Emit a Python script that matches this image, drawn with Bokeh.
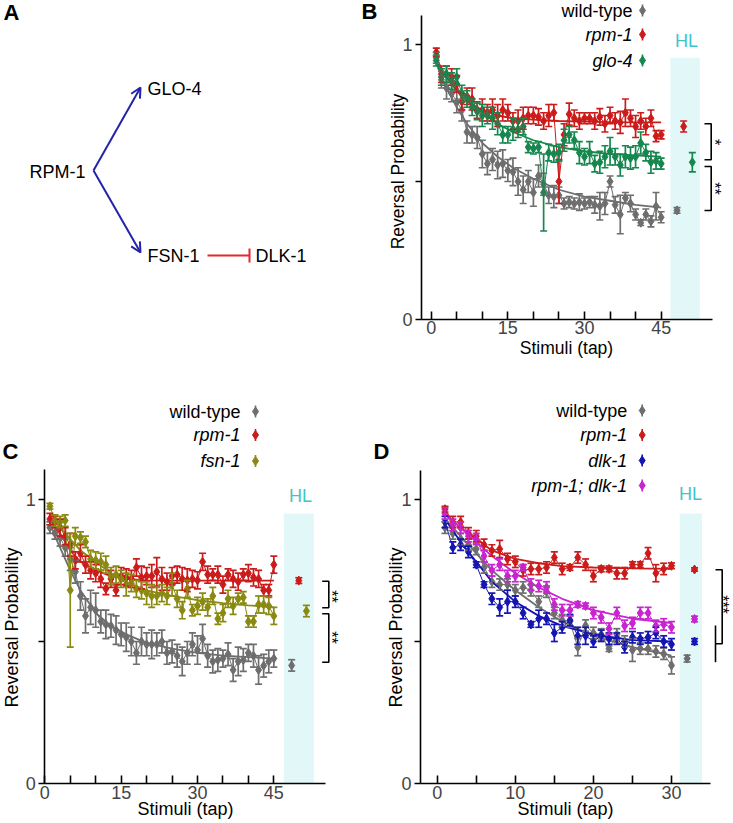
import math
from bokeh.plotting import figure
from bokeh.layouts import row, column
from bokeh.models import (Range1d, LinearAxis, FixedTicker, Whisker, TeeHead,
                          OpenHead, Arrow, ColumnDataSource, Grid)
from bokeh.core.properties import value
from bokeh.embed import file_html
from bokeh.resources import INLINE

FONT = "Liberation Sans"

# ---------------- data ----------------
taps45 = list(range(1, 46))
taps30 = list(range(1, 31))

# Panel B
B_wt = [0.95, 0.87, 0.84, 0.82, 0.79, 0.76, 0.68, 0.67, 0.66, 0.60,
        0.565, 0.58, 0.56, 0.565, 0.54, 0.535, 0.50, 0.47, 0.50, 0.46,
        0.52, 0.49, 0.45, 0.445, 0.45, 0.42, 0.425, 0.42, 0.425, 0.42,
        0.425, 0.415, 0.41, 0.42, 0.50, 0.415, 0.38, 0.44, 0.42, 0.38,
        0.35, 0.38, 0.355, 0.41, 0.37]
B_wt_err = [0.02, 0.03, 0.04, 0.03, 0.04, 0.04, 0.04, 0.03, 0.04, 0.05,
            0.04, 0.04, 0.05, 0.05, 0.04, 0.05, 0.05, 0.05, 0.04, 0.05,
            0.04, 0.04, 0.03, 0.04, 0.03, 0.02, 0.02, 0.02, 0.03, 0.02,
            0.02, 0.03, 0.05, 0.04, 0.02, 0.03, 0.07, 0.02, 0.03, 0.02,
            0.01, 0.02, 0.02, 0.05, 0.02]
B_rpm = [0.97, 0.89, 0.89, 0.88, 0.855, 0.79, 0.81, 0.80, 0.76, 0.76,
         0.75, 0.76, 0.74, 0.76, 0.75, 0.72, 0.72, 0.73, 0.74, 0.74,
         0.735, 0.72, 0.74, 0.75, 0.50, 0.67, 0.745, 0.73, 0.72, 0.73,
         0.73, 0.72, 0.735, 0.71, 0.74, 0.72, 0.715, 0.75, 0.73, 0.70,
         0.72, 0.70, 0.73, 0.665, 0.67]
B_rpm_err = [0.015, 0.03, 0.03, 0.03, 0.03, 0.03, 0.03, 0.04, 0.03, 0.04,
             0.03, 0.04, 0.04, 0.04, 0.03, 0.03, 0.04, 0.04, 0.03, 0.03,
             0.03, 0.03, 0.04, 0.03, 0.08, 0.04, 0.04, 0.03, 0.03, 0.02,
             0.02, 0.03, 0.03, 0.03, 0.03, 0.03, 0.04, 0.05, 0.03, 0.04,
             0.03, 0.03, 0.03, 0.02, 0.015]
B_glo = [0.94, 0.88, 0.89, 0.865, 0.88, 0.82, 0.80, 0.77, 0.755, 0.74,
         0.74, 0.73, 0.71, 0.67, 0.67, 0.69, 0.69, 0.70, 0.625, 0.62,
         0.625, 0.46, 0.605, 0.60, 0.605, 0.65, 0.67, 0.65, 0.605, 0.59,
         0.605, 0.565, 0.57, 0.59, 0.61, 0.59, 0.56, 0.59, 0.585, 0.59,
         0.64, 0.605, 0.57, 0.575, 0.565]
B_glo_err = [0.02, 0.03, 0.03, 0.03, 0.03, 0.03, 0.03, 0.03, 0.03, 0.04,
             0.03, 0.04, 0.04, 0.03, 0.03, 0.04, 0.03, 0.03, 0.02, 0.02,
             0.02, 0.14, 0.03, 0.03, 0.03, 0.04, 0.03, 0.03, 0.04, 0.03,
             0.04, 0.03, 0.04, 0.04, 0.05, 0.03, 0.04, 0.04, 0.04, 0.04,
             0.04, 0.03, 0.04, 0.03, 0.02]
fitB_x = [1, 2, 3, 5, 7, 10, 13, 16, 20, 25, 30, 35, 40, 45]
B_wt_fit = [0.93, 0.88, 0.84, 0.77, 0.71, 0.64, 0.59, 0.55, 0.51, 0.47, 0.445, 0.43, 0.415, 0.405]
B_rpm_fit = [0.95, 0.91, 0.88, 0.83, 0.79, 0.76, 0.74, 0.73, 0.725, 0.72, 0.718, 0.716, 0.715, 0.715]
B_glo_fit = [0.94, 0.91, 0.88, 0.84, 0.80, 0.75, 0.71, 0.68, 0.65, 0.625, 0.61, 0.60, 0.595, 0.59]
B_hl_x = [48.1, 49.4, 51.1]
B_hl = [0.395, 0.70, 0.57]
B_hl_err = [0.01, 0.02, 0.035]

# Panel C
C_wt = [0.90, 0.88, 0.865, 0.83, 0.79, 0.745, 0.66, 0.59, 0.62, 0.61,
        0.57, 0.56, 0.555, 0.54, 0.525, 0.515, 0.50, 0.46, 0.50, 0.49,
        0.49, 0.49, 0.50, 0.46, 0.465, 0.45, 0.43, 0.46, 0.49, 0.47,
        0.51, 0.45, 0.43, 0.435, 0.44, 0.455, 0.40, 0.43, 0.435, 0.46,
        0.45, 0.40, 0.415, 0.43, 0.44]
C_wt_err = [0.02, 0.02, 0.03, 0.03, 0.04, 0.04, 0.05, 0.06, 0.06, 0.06,
            0.04, 0.05, 0.04, 0.05, 0.04, 0.05, 0.05, 0.04, 0.05, 0.04,
            0.05, 0.04, 0.04, 0.04, 0.04, 0.04, 0.05, 0.04, 0.04, 0.05,
            0.05, 0.04, 0.04, 0.04, 0.03, 0.04, 0.04, 0.05, 0.04, 0.03,
            0.04, 0.05, 0.04, 0.04, 0.03]
C_rpm = [0.93, 0.92, 0.90, 0.87, 0.84, 0.785, 0.81, 0.77, 0.75, 0.74,
         0.72, 0.685, 0.72, 0.68, 0.73, 0.725, 0.72, 0.76, 0.725, 0.73,
         0.73, 0.745, 0.72, 0.71, 0.73, 0.735, 0.72, 0.715, 0.72, 0.715,
         0.78, 0.735, 0.735, 0.735, 0.70, 0.735, 0.72, 0.71, 0.735, 0.74,
         0.725, 0.72, 0.68, 0.68, 0.77]
C_rpm_err = [0.02, 0.02, 0.03, 0.03, 0.04, 0.03, 0.03, 0.03, 0.03, 0.03,
             0.03, 0.02, 0.03, 0.02, 0.03, 0.03, 0.03, 0.03, 0.04, 0.03,
             0.04, 0.05, 0.04, 0.03, 0.03, 0.03, 0.04, 0.04, 0.03, 0.03,
             0.03, 0.03, 0.02, 0.03, 0.03, 0.02, 0.03, 0.03, 0.02, 0.03,
             0.03, 0.03, 0.02, 0.02, 0.03]
C_fsn = [0.975, 0.925, 0.92, 0.925, 0.68, 0.87, 0.865, 0.85, 0.79, 0.785,
         0.78, 0.77, 0.73, 0.735, 0.72, 0.70, 0.705, 0.685, 0.68, 0.67,
         0.66, 0.66, 0.67, 0.66, 0.70, 0.65, 0.61, 0.685, 0.61, 0.625,
         0.64, 0.62, 0.66, 0.58, 0.60, 0.65, 0.625, 0.65, 0.655, 0.57,
         0.57, 0.63, 0.63, 0.625, 0.59]
C_fsn_err = [0.01, 0.02, 0.02, 0.02, 0.20, 0.03, 0.02, 0.02, 0.03, 0.03,
             0.03, 0.03, 0.03, 0.03, 0.03, 0.04, 0.03, 0.03, 0.03, 0.04,
             0.04, 0.03, 0.03, 0.03, 0.04, 0.03, 0.03, 0.03, 0.02, 0.03,
             0.03, 0.03, 0.03, 0.02, 0.03, 0.03, 0.03, 0.02, 0.02, 0.02,
             0.02, 0.03, 0.03, 0.03, 0.03]
fitC_x = [1, 2, 3, 5, 7, 10, 13, 16, 20, 25, 30, 35, 40, 45]
C_wt_fit = [0.92, 0.87, 0.83, 0.75, 0.68, 0.60, 0.555, 0.525, 0.495, 0.475, 0.46, 0.45, 0.445, 0.44]
C_rpm_fit = [0.93, 0.90, 0.88, 0.82, 0.78, 0.75, 0.73, 0.72, 0.715, 0.714, 0.714, 0.714, 0.714, 0.714]
C_fsn_fit = [0.95, 0.93, 0.90, 0.86, 0.82, 0.78, 0.74, 0.71, 0.68, 0.66, 0.645, 0.635, 0.627, 0.62]
C_hl_x = [48.5, 49.9, 51.4]
C_hl = [0.416, 0.714, 0.607]
C_hl_err = [0.02, 0.01, 0.02]

# Panel D
D_wt = [0.90, 0.88, 0.86, 0.84, 0.825, 0.76, 0.71, 0.70, 0.70, 0.68,
        0.69, 0.68, 0.64, 0.675, 0.60, 0.575, 0.57, 0.48, 0.556, 0.53,
        0.525, 0.475, 0.525, 0.50, 0.47, 0.475, 0.475, 0.465, 0.457, 0.416]
D_wt_err = [0.02, 0.02, 0.02, 0.02, 0.02, 0.02, 0.02, 0.02, 0.02, 0.02,
            0.02, 0.02, 0.02, 0.02, 0.02, 0.02, 0.02, 0.03, 0.02, 0.02,
            0.02, 0.01, 0.02, 0.02, 0.04, 0.02, 0.02, 0.02, 0.02, 0.03]
D_rpm = [0.965, 0.92, 0.92, 0.88, 0.87, 0.84, 0.82, 0.825, 0.79, 0.78,
         0.75, 0.755, 0.755, 0.76, 0.795, 0.755, 0.76, 0.795, 0.77, 0.73,
         0.755, 0.755, 0.74, 0.74, 0.77, 0.77, 0.81, 0.74, 0.755, 0.766]
D_rpm_err = [0.01, 0.02, 0.02, 0.02, 0.02, 0.02, 0.02, 0.03, 0.02, 0.02,
             0.02, 0.02, 0.02, 0.02, 0.02, 0.02, 0.01, 0.02, 0.02, 0.02,
             0.01, 0.01, 0.02, 0.02, 0.01, 0.01, 0.02, 0.03, 0.02, 0.01]
D_dlk = [0.92, 0.83, 0.84, 0.815, 0.77, 0.70, 0.65, 0.62, 0.64, 0.64,
         0.60, 0.56, 0.58, 0.58, 0.53, 0.55, 0.575, 0.52, 0.52, 0.50,
         0.52, 0.51, 0.51, 0.48, 0.515, 0.51, 0.515, 0.53, 0.50, 0.49]
D_dlk_err = [0.02, 0.02, 0.02, 0.02, 0.01, 0.01, 0.02, 0.03, 0.04, 0.02,
             0.02, 0.01, 0.03, 0.02, 0.03, 0.02, 0.02, 0.03, 0.03, 0.02,
             0.02, 0.02, 0.02, 0.02, 0.02, 0.02, 0.02, 0.02, 0.02, 0.02]
D_rd = [0.95, 0.91, 0.90, 0.87, 0.86, 0.80, 0.75, 0.77, 0.73, 0.73,
        0.76, 0.70, 0.695, 0.69, 0.63, 0.61, 0.61, 0.63, 0.625, 0.60,
        0.585, 0.545, 0.60, 0.555, 0.565, 0.60, 0.60, 0.555, 0.56, 0.55]
D_rd_err = [0.02, 0.02, 0.02, 0.02, 0.02, 0.02, 0.02, 0.02, 0.02, 0.02,
            0.01, 0.02, 0.02, 0.02, 0.02, 0.02, 0.02, 0.01, 0.01, 0.02,
            0.02, 0.02, 0.02, 0.02, 0.02, 0.02, 0.02, 0.02, 0.02, 0.02]
fitD_x = [1, 2, 3, 5, 7, 10, 13, 16, 20, 25, 30]
D_wt_fit = [0.93, 0.90, 0.87, 0.81, 0.75, 0.68, 0.62, 0.57, 0.52, 0.48, 0.45]
D_rpm_fit = [0.95, 0.925, 0.90, 0.86, 0.82, 0.79, 0.775, 0.765, 0.76, 0.757, 0.755]
D_dlk_fit = [0.93, 0.89, 0.85, 0.78, 0.71, 0.64, 0.59, 0.555, 0.525, 0.505, 0.50]
D_rd_fit = [0.95, 0.925, 0.90, 0.85, 0.80, 0.74, 0.69, 0.65, 0.61, 0.58, 0.565]
D_hl_x = [32.0, 32.95, 32.95, 32.95]
D_hl = [0.44, 0.753, 0.50, 0.579]
D_hl_err = [0.012, 0.006, 0.01, 0.01]

# HL windows (x from, x to, top)
B_band = (46.8, 52.57, 0.95)
C_band = (46.95, 52.85, 0.95)
D_band = (31.05, 33.9, 0.95)

# Panel A diagram
A_nodes = ["GLO-4", "RPM-1", "FSN-1", "DLK-1"]
A_node_x = [147, 29, 147, 255]
A_node_y = [88, 171, 255, 255]

GRAY = "#6e6e6e"
RED = "#cc1b1b"
GREEN = "#16874f"
OLIVE = "#8a8a12"
BLUE = "#1515b3"
MAGENTA = "#c824cf"
HLC = "#3cc6cc"
BANDC = "#e1f7f8"


class Map:
    def __init__(self, x0, xs, y0, ys):
        self.x0, self.xs, self.y0, self.ys = x0, xs, y0, ys

    def x(self, page):
        return (page - self.x0) / self.xs

    def y(self, page):
        return (self.y0 - page) / self.ys


def hide_grids(p):
    for r in list(p.center):
        if isinstance(r, Grid):
            r.visible = False


def make_fig(m, L, R, T, Bt):
    p = figure(width=int(R - L), height=int(Bt - T),
               x_range=Range1d(m.x(L), m.x(R)), y_range=Range1d(m.y(Bt), m.y(T)),
               output_backend="svg", toolbar_location=None,
               x_axis_location=None, y_axis_location=None, min_border=0)
    p.outline_line_color = None
    p.background_fill_color = "white"
    p.border_fill_color = "white"
    hide_grids(p)
    return p


def add_axes(p, m, yx_page, ytop_page, xright_page, xt, xminor):
    yax = LinearAxis(fixed_location=m.x(yx_page), bounds=(0, m.y(ytop_page)),
                     ticker=FixedTicker(ticks=[0, 1], minor_ticks=[0.5]))
    yax.major_tick_in = 0
    yax.major_tick_out = 6
    yax.minor_tick_in = 0
    yax.minor_tick_out = 6
    yax.axis_line_width = 1.6
    yax.major_tick_line_width = 1.6
    yax.minor_tick_line_width = 1.6
    yax.major_label_text_font = FONT
    yax.major_label_text_font_size = "18px"
    yax.major_label_standoff = 3
    p.add_layout(yax, "left")
    xax = LinearAxis(fixed_location=0, bounds=(m.x(yx_page), m.x(xright_page)),
                     ticker=FixedTicker(ticks=xt, minor_ticks=xminor))
    xax.major_tick_in = 8
    xax.major_tick_out = 0
    xax.minor_tick_in = 8
    xax.minor_tick_out = 0
    xax.axis_line_width = 1.6
    xax.major_tick_line_width = 1.6
    xax.minor_tick_line_width = 1.6
    xax.major_label_text_font = FONT
    xax.major_label_text_font_size = "18px"
    xax.major_label_standoff = 2
    p.add_layout(xax, "below")
    hide_grids(p)


def whisk(p, x, y, err, color, size=7):
    src = ColumnDataSource(dict(x=x, upper=[a + e for a, e in zip(y, err)],
                                lower=[a - e for a, e in zip(y, err)]))
    p.add_layout(Whisker(source=src, base="x", upper="upper", lower="lower",
                         level="glyph", line_color=color, line_width=1.7,
                         upper_head=TeeHead(size=size, line_color=color, line_width=1.7),
                         lower_head=TeeHead(size=size, line_color=color, line_width=1.7)))


def series(p, x, y, err, fx, fy, color):
    p.line(x, y, line_color=color, line_width=1.0)
    p.line(fx, fy, line_color=color, line_width=1.8)
    whisk(p, x, y, err, color)
    p.scatter(x, y, marker="diamond", size=9, fill_color=color, line_color=color)


def txt(p, x, y, s, size="18px", color="black", align="left", baseline="middle",
        style="normal", angle=0.0):
    p.text(x=[x], y=[y], text=[s], text_font=value(FONT), text_font_size=value(size),
           text_color=color, text_align=align, text_baseline=baseline,
           text_font_style=value(style), angle=angle)


def legend(p, m, tx, mx, ys, labels, styles, colors):
    for yy, lab, st, c in zip(ys, labels, styles, colors):
        txt(p, m.x(tx), m.y(yy), lab, align="right", style=st)
        p.segment(x0=[m.x(mx)], y0=[m.y(yy - 6)], x1=[m.x(mx)], y1=[m.y(yy + 6)],
                  line_color=c, line_width=1.6)
        p.scatter([m.x(mx)], [m.y(yy)], marker="diamond", size=9, color=c)


def bracket(p, m, xl, xr, y1, y2):
    p.line([m.x(xl), m.x(xr), m.x(xr), m.x(xl)], [m.y(y1), m.y(y1), m.y(y2), m.y(y2)],
           line_color="black", line_width=1.6)


def hl_points(p, xs, ys, errs, colors):
    for xx, yy, ee, cc in zip(xs, ys, errs, colors):
        whisk(p, [xx], [yy], [ee], cc)
        p.scatter([xx], [yy], marker="diamond", size=9, color=cc)


# ---------------- Panel A ----------------
pA = figure(width=360, height=400, x_range=Range1d(0, 360), y_range=Range1d(400, 0),
            output_backend="svg", toolbar_location=None,
            x_axis_location=None, y_axis_location=None, min_border=0)
pA.outline_line_color = None
hide_grids(pA)
pA.text(x=A_node_x, y=A_node_y, text=A_nodes, text_font=value(FONT),
        text_font_size=value("18px"), text_align="left", text_baseline="middle")
pA.text(x=[3], y=[12], text=["A"], text_font=value(FONT), text_font_size=value("22px"),
        text_font_style=value("bold"), text_baseline="middle")
ABLUE = "#2323a8"
AREDC = "#e8262b"
vx, vy = A_node_x[1] + 64, A_node_y[1] - 1
for tx, ty in [(A_node_x[0] - 7, A_node_y[0] - 1), (A_node_x[2] - 7, A_node_y[2] - 3)]:
    pA.add_layout(Arrow(x_start=vx, y_start=vy, x_end=tx, y_end=ty,
                        line_color=ABLUE, line_width=2,
                        end=OpenHead(size=10, line_color=ABLUE, line_width=2)))
pA.add_layout(Arrow(x_start=A_node_x[2] + 60, y_start=A_node_y[2],
                    x_end=A_node_x[3] - 6, y_end=A_node_y[3],
                    line_color=AREDC, line_width=2,
                    end=TeeHead(size=14, line_color=AREDC, line_width=2)))

# ---------------- Panel B ----------------
mB = Map(430.7, 5.11, 318.5, 275.0)
pB = make_fig(mB, 360, 733, 0, 400)
pB.quad(left=[B_band[0]], right=[B_band[1]], bottom=[0], top=[B_band[2]],
        fill_color=BANDC, line_color=None)
add_axes(pB, mB, 421, 15, 712, [0, 15, 30, 45], [5, 10, 20, 25, 35, 40])
series(pB, taps45, B_wt, B_wt_err, fitB_x, B_wt_fit, GRAY)
series(pB, taps45, B_rpm, B_rpm_err, fitB_x, B_rpm_fit, RED)
series(pB, taps45, B_glo, B_glo_err, fitB_x, B_glo_fit, GREEN)
hl_points(pB, B_hl_x, B_hl, B_hl_err, [GRAY, RED, GREEN])
txt(pB, mB.x(686), mB.y(40), "HL", color=HLC, align="center")
legend(pB, mB, 632, 642, [10, 34, 60], ["wild-type", "rpm-1", "glo-4"],
       ["normal", "italic", "italic"], [GRAY, RED, GREEN])
txt(pB, mB.x(361), mB.y(11), "B", size="22px", style="bold")
txt(pB, mB.x(397), mB.y(171), "Reversal Probability", size="17.5px", align="center",
    angle=math.pi / 2)
txt(pB, mB.x(566), mB.y(347), "Stimuli (tap)", size="17.5px", align="center")
bracket(pB, mB, 704, 710.7, 123.3, 159.3)
bracket(pB, mB, 704, 710.7, 166, 210)
txt(pB, mB.x(714), mB.y(141.5), "*", size="16px", align="center", angle=-math.pi / 2)
txt(pB, mB.x(714), mB.y(188), "**", size="16px", align="center", angle=-math.pi / 2)

# ---------------- Panel C ----------------
mC = Map(44.3, 5.09, 783.3, 284.6)
pC = make_fig(mC, 0, 366, 400, 823)
pC.quad(left=[C_band[0]], right=[C_band[1]], bottom=[0], top=[C_band[2]],
        fill_color=BANDC, line_color=None)
add_axes(pC, mC, 44.3, 469, 325, [0, 15, 30, 45], [5, 10, 20, 25, 35, 40])
series(pC, taps45, C_wt, C_wt_err, fitC_x, C_wt_fit, GRAY)
series(pC, taps45, C_rpm, C_rpm_err, fitC_x, C_rpm_fit, RED)
series(pC, taps45, C_fsn, C_fsn_err, fitC_x, C_fsn_fit, OLIVE)
hl_points(pC, C_hl_x, C_hl, C_hl_err, [GRAY, RED, OLIVE])
txt(pC, mC.x(300), mC.y(495), "HL", color=HLC, align="center")
legend(pC, mC, 240, 255, [411, 434.5, 460.5], ["wild-type", "rpm-1", "fsn-1"],
       ["normal", "italic", "italic"], [GRAY, RED, OLIVE])
txt(pC, mC.x(2), mC.y(451), "C", size="22px", style="bold")
txt(pC, mC.x(11), mC.y(627), "Reversal Probability", size="18px", align="center",
    angle=math.pi / 2)
txt(pC, mC.x(185), mC.y(808), "Stimuli (tap)", size="18px", align="center")
bracket(pC, mC, 321.7, 328.3, 580.7, 607.3)
bracket(pC, mC, 321.7, 328.3, 613.3, 661.7)
txt(pC, mC.x(331), mC.y(596), "**", size="16px", align="center", angle=-math.pi / 2)
txt(pC, mC.x(331), mC.y(637), "**", size="16px", align="center", angle=-math.pi / 2)

# ---------------- Panel D ----------------
mD = Map(436.7, 7.81, 783.3, 284.6)
pD = make_fig(mD, 366, 733, 400, 823)
pD.quad(left=[D_band[0]], right=[D_band[1]], bottom=[0], top=[D_band[2]],
        fill_color=BANDC, line_color=None)
add_axes(pD, mD, 420, 470, 710, [0, 10, 20, 30], [5, 15, 25])
series(pD, taps30, D_wt, D_wt_err, fitD_x, D_wt_fit, GRAY)
series(pD, taps30, D_rpm, D_rpm_err, fitD_x, D_rpm_fit, RED)
series(pD, taps30, D_dlk, D_dlk_err, fitD_x, D_dlk_fit, BLUE)
series(pD, taps30, D_rd, D_rd_err, fitD_x, D_rd_fit, MAGENTA)
hl_points(pD, D_hl_x, D_hl, D_hl_err, [GRAY, RED, BLUE, MAGENTA])
txt(pD, mD.x(690), mD.y(493), "HL", color=HLC, align="center")
legend(pD, mD, 626.7, 641.7, [410, 434.5, 460, 485],
       ["wild-type", "rpm-1", "dlk-1", "rpm-1; dlk-1"],
       ["normal", "italic", "italic", "italic"], [GRAY, RED, BLUE, MAGENTA])
txt(pD, mD.x(373), mD.y(451), "D", size="22px", style="bold")
txt(pD, mD.x(395), mD.y(627), "Reversal Probability", size="18px", align="center",
    angle=math.pi / 2)
txt(pD, mD.x(565), mD.y(808), "Stimuli (tap)", size="18px", align="center")
pD.line([mD.x(715), mD.x(721.7), mD.x(721.7), mD.x(715)],
        [mD.y(569.3), mD.y(569.3), mD.y(643.3), mD.y(643.3)], line_color="black", line_width=1.6)
pD.line([mD.x(715), mD.x(715)], [mD.y(625), mD.y(661.7)], line_color="black", line_width=1.6)
txt(pD, mD.x(722), mD.y(604), "***", size="16px", align="center", angle=-math.pi / 2)

layout = column(row(pA, pB), row(pC, pD))
open("out.html", "w").write(file_html(layout, INLINE))
